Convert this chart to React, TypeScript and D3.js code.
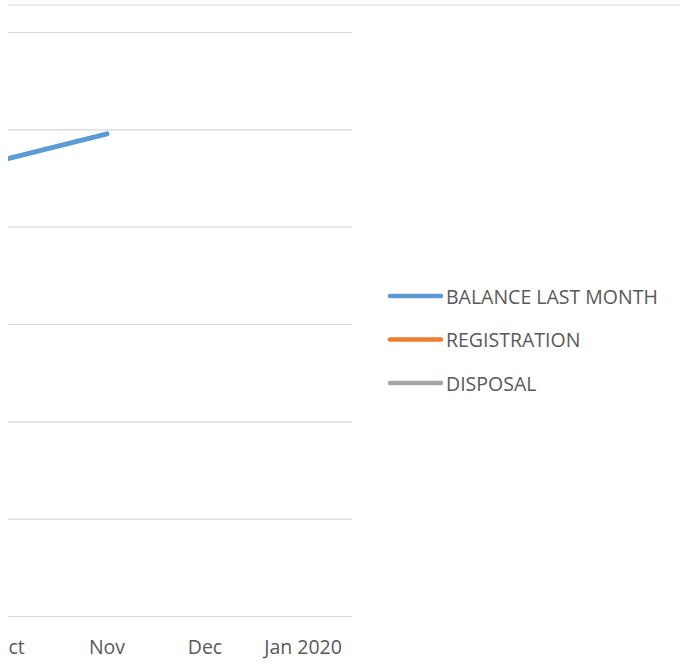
import React, { useEffect, useRef } from 'react';
import * as d3 from 'd3';

// categories on the x axis (only the last few are visible in the crop)
const months = ['Jan 2019', 'Feb', 'Mar', 'Apr', 'May', 'Jun', 'Jul', 'Aug', 'Sep', 'Oct', 'Nov', 'Dec', 'Jan 2020'];

// series values (null = not shown)
const balanceLastMonth: (number | null)[] = [null, null, null, null, null, null, null, null, null, 235300, 247900, null, null];
const registration: (number | null)[] = [null, null, null, null, null, null, null, null, null, null, null, null, null];
const disposal: (number | null)[] = [null, null, null, null, null, null, null, null, null, null, null, null, null];

const yTicks = [0, 50000, 100000, 150000, 200000, 250000, 300000];

const seriesNames = ['BALANCE LAST MONTH', 'REGISTRATION', 'DISPOSAL'];
const seriesColors = ['#5B9BD5', '#ED7D31', '#A5A5A5'];

export default function App() {
  const svgRef = useRef<SVGSVGElement>(null);

  useEffect(() => {
    if (!svgRef.current) return;
    const svg = d3.select(svgRef.current);
    svg.selectAll('*').remove();

    const W = 680;
    const H = 672;
    const plotRight = 352;
    const plotTop = 32.5;
    const plotBottom = 616.5;
    const step = 98;
    const font = '"Open Sans", sans-serif';
    const textColor = '#595959';

    // clip: the picture is cropped on the left
    svg.append('defs').append('clipPath').attr('id', 'crop')
      .append('rect').attr('x', 8).attr('y', 0).attr('width', W - 8).attr('height', H);

    const root = svg.append('g').attr('clip-path', 'url(#crop)');

    // chart frame top edge
    root.append('line')
      .attr('x1', 0).attr('x2', W)
      .attr('y1', 5).attr('y2', 5)
      .attr('stroke', '#D9D9D9').attr('stroke-width', 1.2);

    const x = d3.scaleBand<string>()
      .domain(months)
      .range([plotRight - step * months.length, plotRight])
      .padding(0);

    const y = d3.scaleLinear()
      .domain([0, 300000])
      .range([plotBottom, plotTop]);

    const cx = (m: string) => (x(m) ?? 0) + x.bandwidth() / 2;

    // gridlines
    root.append('g')
      .selectAll('line')
      .data(yTicks)
      .enter().append('line')
      .attr('x1', x.range()[0])
      .attr('x2', plotRight)
      .attr('y1', d => y(d))
      .attr('y2', d => y(d))
      .attr('stroke', '#D9D9D9')
      .attr('stroke-width', 1.2);

    // x labels (only those whose centre falls inside the crop)
    root.append('g')
      .selectAll('text')
      .data(months.filter(m => cx(m) > 0))
      .enter().append('text')
      .attr('x', d => cx(d))
      .attr('y', 654)
      .attr('text-anchor', 'middle')
      .attr('fill', textColor)
      .style('font-family', font)
      .style('font-size', '19.5px')
      .text(d => d);

    // lines
    const allSeries = [balanceLastMonth, registration, disposal];
    const line = d3.line<number | null>()
      .defined(d => d != null)
      .x((_, i) => cx(months[i]))
      .y(d => y(d as number));

    allSeries.forEach((s, i) => {
      root.append('path')
        .datum(s)
        .attr('fill', 'none')
        .attr('stroke', seriesColors[i])
        .attr('stroke-width', 5)
        .attr('stroke-linecap', 'round')
        .attr('stroke-linejoin', 'round')
        .attr('d', line);
    });

    // legend
    const legend = root.append('g');
    const legendY = d3.scalePoint<string>().domain(seriesNames).range([296, 383]);
    seriesNames.forEach((name, i) => {
      const ly = legendY(name) ?? 0;
      legend.append('line')
        .attr('x1', 390).attr('x2', 441)
        .attr('y1', ly).attr('y2', ly)
        .attr('stroke', seriesColors[i])
        .attr('stroke-width', 4.5)
        .attr('stroke-linecap', 'round');
      legend.append('text')
        .attr('x', 446)
        .attr('y', ly + 7.5)
        .attr('fill', textColor)
        .style('font-family', font)
        .style('font-size', '19.5px')
        .text(name);
    });
  }, []);

  return (
    <svg
      ref={svgRef}
      width={680}
      height={672}
      style={{ position: 'absolute', left: 0, top: 0, background: '#fff' }}
    />
  );
}
